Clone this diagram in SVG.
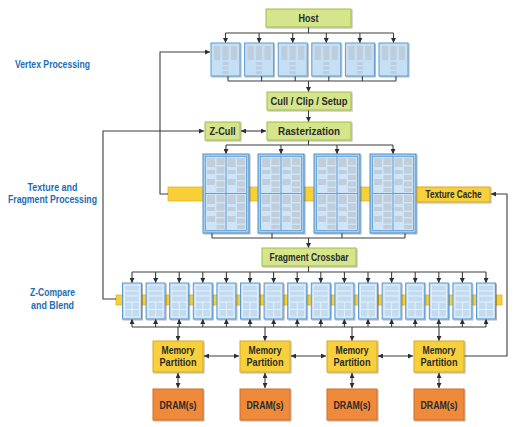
<svg xmlns="http://www.w3.org/2000/svg" xmlns:xlink="http://www.w3.org/1999/xlink" width="515" height="427" viewBox="0 0 515 427">
<style>
.t{font-family:"Liberation Sans",Arial,sans-serif;font-weight:bold;font-size:10px;fill:#2b2b2b;text-anchor:middle}
.lab{font-family:"Liberation Sans",Arial,sans-serif;font-weight:bold;font-size:10px;fill:#1c6cb4;text-anchor:middle}
.ln{fill:none;stroke:#3c3c3c;stroke-width:1.1}
.ar{fill:none;stroke:#3c3c3c;stroke-width:1.1;marker-end:url(#ah)}
.da{fill:none;stroke:#3c3c3c;stroke-width:1.1;marker-end:url(#ah);marker-start:url(#ah)}
.g{fill:#d4e58b;stroke:#a4bb4c;stroke-width:1;filter:url(#sh)}
.y{fill:#f8d03a;stroke:#d8a823;stroke-width:1;filter:url(#sh)}
.o{fill:#ef8a3b;stroke:#d06d24;stroke-width:1;filter:url(#sh)}
.bar{fill:#f8cf36;stroke:#e2b42a;stroke-width:0.8}
.vb{fill:#c5dff4;stroke:#5b9bd0;stroke-width:1;filter:url(#sh)}
.fb{fill:#a8cdee;stroke:#4d91cb;stroke-width:1;filter:url(#sh)}
.fi{fill:#cfe5f7;stroke:#5e9fd5;stroke-width:0.8}
.rb{fill:#c3dbf0;stroke:#5b9bd0;stroke-width:1;filter:url(#sh)}
.gr{fill:#b9c5d0;opacity:0.7}
.wl{fill:none;stroke:#eaf3fb;stroke-width:0.9}
</style>
<defs>
<filter id="sh" x="-20%" y="-20%" width="140%" height="140%">
<feDropShadow dx="1" dy="1" stdDeviation="0.7" flood-color="#000" flood-opacity="0.3"/>
</filter>
<marker id="ah" viewBox="0 0 6 6" markerWidth="5" markerHeight="5" refX="6" refY="3" orient="auto-start-reverse" markerUnits="userSpaceOnUse">
<path d="M0,0L6,3L0,6z" fill="#2e2e2e"/>
</marker>
<g id="vin">
<rect class="gr" x="3" y="3" width="6" height="14"/>
<rect class="gr" x="11.5" y="3" width="6" height="14"/>
<rect class="gr" x="20" y="3" width="6" height="14"/>
<rect class="gr" x="11.5" y="19" width="6" height="3"/>
<rect class="gr" x="11.5" y="23.5" width="6" height="3"/>
<rect class="gr" x="11.5" y="28" width="6" height="3"/>
</g>
<g id="fq">
<rect class="gr" x="1" y="1" width="8" height="9"/>
<rect class="gr" x="1" y="13" width="8" height="4"/>
<rect class="gr" x="1" y="22" width="8" height="6"/>
<rect class="gr" x="10.5" y="1" width="8" height="7"/>
<rect class="gr" x="10.5" y="9.5" width="8" height="7"/>
<rect class="gr" x="10.5" y="18" width="8" height="5"/>
<rect class="gr" x="10.5" y="24.5" width="8" height="5"/>
<rect class="gr" x="10.5" y="31" width="8" height="4"/>
</g>
<g id="fin">
<rect class="fi" x="2.5" y="2.5" width="41" height="74"/>
<path d="M23,2.5V76.5M2.5,39.5H43.5" fill="none" stroke="#5e9fd5" stroke-width="1"/>
<use xlink:href="#fq" x="3" y="3"/>
<use xlink:href="#fq" x="23.5" y="3"/>
<use xlink:href="#fq" x="3" y="40"/>
<use xlink:href="#fq" x="23.5" y="40"/>
</g>
<g id="rin">
<rect class="wl" x="2" y="2" width="15" height="32"/>
<path class="wl" d="M2,8H17M2,13H17M2,19H17M2,26.5H17M9.5,19V34"/>
</g>
</defs>

<g id="labels">
<text class="lab" x="52.5" y="67.5" textLength="75" lengthAdjust="spacingAndGlyphs">Vertex Processing</text>
<text class="lab" x="52.5" y="190.5" textLength="50" lengthAdjust="spacingAndGlyphs">Texture and</text>
<text class="lab" x="52.5" y="202.5" textLength="89" lengthAdjust="spacingAndGlyphs">Fragment Processing</text>
<text class="lab" x="52.5" y="295.5" textLength="45" lengthAdjust="spacingAndGlyphs">Z-Compare</text>
<text class="lab" x="52.5" y="308.5" textLength="43" lengthAdjust="spacingAndGlyphs">and Blend</text>
</g>

<g id="bars">
<rect id="texbar" class="bar" x="168" y="187" width="250" height="14"/>
<rect id="ropbar" class="bar" x="116" y="295" width="386" height="10"/>
</g>

<g id="connectors">
<path class="ln" d="M308.5,27V33M225.5,33H393.5"/>
<path class="ar" d="M225.5,33V43"/>
<path class="ar" d="M259.1,33V43"/>
<path class="ar" d="M292.7,33V43"/>
<path class="ar" d="M326.3,33V43"/>
<path class="ar" d="M359.9,33V43"/>
<path class="ar" d="M393.5,33V43"/>
<path class="ln" d="M228,76V81M261.6,76V81M295.2,76V81M328.8,76V81M362.4,76V81M396,76V81M228,81H396"/>
<path class="ar" d="M308.5,81V92"/>
<path class="ar" d="M308.5,110V122"/>
<path class="da" d="M241,131H266"/>
<path class="ln" d="M308.5,140V145M226,145H393"/>
<path class="ar" d="M226,145V154"/>
<path class="ar" d="M281,145V154"/>
<path class="ar" d="M337,145V154"/>
<path class="ar" d="M393,145V154"/>
<path class="ln" d="M212,233V238M272,233V238M342,233V238M405,233V238M212,238H405"/>
<path class="ar" d="M308.5,238V248"/>
<path class="ln" d="M308.5,266V272M132,272H486"/>
<path class="ar" d="M132,272V283"/>
<path class="ar" d="M155.6,272V283"/>
<path class="ar" d="M179.2,272V283"/>
<path class="ar" d="M202.8,272V283"/>
<path class="ar" d="M226.4,272V283"/>
<path class="ar" d="M250,272V283"/>
<path class="ar" d="M273.6,272V283"/>
<path class="ar" d="M297.2,272V283"/>
<path class="ar" d="M320.8,272V283"/>
<path class="ar" d="M344.4,272V283"/>
<path class="ar" d="M368,272V283"/>
<path class="ar" d="M391.6,272V283"/>
<path class="ar" d="M415.2,272V283"/>
<path class="ar" d="M438.8,272V283"/>
<path class="ar" d="M462.4,272V283"/>
<path class="ar" d="M486,272V283"/>
<path class="ln" d="M132,327H486"/>
<path class="ar" d="M132,327V319"/>
<path class="ar" d="M155.6,327V319"/>
<path class="ar" d="M179.2,327V319"/>
<path class="ar" d="M202.8,327V319"/>
<path class="ar" d="M226.4,327V319"/>
<path class="ar" d="M250,327V319"/>
<path class="ar" d="M273.6,327V319"/>
<path class="ar" d="M297.2,327V319"/>
<path class="ar" d="M320.8,327V319"/>
<path class="ar" d="M344.4,327V319"/>
<path class="ar" d="M368,327V319"/>
<path class="ar" d="M391.6,327V319"/>
<path class="ar" d="M415.2,327V319"/>
<path class="ar" d="M438.8,327V319"/>
<path class="ar" d="M462.4,327V319"/>
<path class="ar" d="M486,327V319"/>
<path class="ar" d="M178,327V341"/>
<path class="ar" d="M265,327V341"/>
<path class="ar" d="M352,327V341"/>
<path class="ar" d="M439,327V341"/>
<path class="da" d="M204,356H239"/>
<path class="da" d="M291,356H326"/>
<path class="da" d="M378,356H413"/>
<path class="da" d="M178,373V388"/>
<path class="da" d="M265,373V388"/>
<path class="da" d="M352,373V388"/>
<path class="da" d="M439,373V388"/>
<path class="ar" d="M464,356H507V194H491"/>
<path class="ar" d="M168,194H160V52H210"/>
<path class="ar" d="M116,299H103V131H204"/>
</g>

<g id="host"><rect class="g" x="266" y="9" width="85" height="18"/><text class="t" x="308.5" y="21.5" textLength="20" lengthAdjust="spacingAndGlyphs">Host</text></g>

<g id="vertex1"><rect class="vb" x="211" y="43" width="29" height="33"/><use xlink:href="#vin" x="211" y="43"/></g>
<g id="vertex2"><rect class="vb" x="244.6" y="43" width="29" height="33"/><use xlink:href="#vin" x="244.6" y="43"/></g>
<g id="vertex3"><rect class="vb" x="278.2" y="43" width="29" height="33"/><use xlink:href="#vin" x="278.2" y="43"/></g>
<g id="vertex4"><rect class="vb" x="311.8" y="43" width="29" height="33"/><use xlink:href="#vin" x="311.8" y="43"/></g>
<g id="vertex5"><rect class="vb" x="345.4" y="43" width="29" height="33"/><use xlink:href="#vin" x="345.4" y="43"/></g>
<g id="vertex6"><rect class="vb" x="379" y="43" width="29" height="33"/><use xlink:href="#vin" x="379" y="43"/></g>

<g id="cull"><rect class="g" x="267" y="92" width="84" height="18"/><text class="t" x="309" y="104.5" textLength="77" lengthAdjust="spacingAndGlyphs">Cull / Clip / Setup</text></g>
<g id="raster"><rect class="g" x="267" y="122" width="84" height="18"/><text class="t" x="309" y="134.5" textLength="62" lengthAdjust="spacingAndGlyphs">Rasterization</text></g>
<g id="zcull"><rect class="g" x="205" y="122" width="35" height="18"/><text class="t" x="222.5" y="134.5" textLength="26" lengthAdjust="spacingAndGlyphs">Z-Cull</text></g>

<g id="frag1"><rect class="fb" x="203" y="154" width="46" height="79"/><use xlink:href="#fin" x="203" y="154"/></g>
<g id="frag2"><rect class="fb" x="258" y="154" width="46" height="79"/><use xlink:href="#fin" x="258" y="154"/></g>
<g id="frag3"><rect class="fb" x="314" y="154" width="46" height="79"/><use xlink:href="#fin" x="314" y="154"/></g>
<g id="frag4"><rect class="fb" x="370" y="154" width="46" height="79"/><use xlink:href="#fin" x="370" y="154"/></g>

<g id="texcache"><rect class="y" x="417" y="187" width="73" height="15" stroke="#b8901a"/><text class="t" x="453.5" y="198" textLength="56" lengthAdjust="spacingAndGlyphs">Texture Cache</text></g>

<g id="crossbar"><rect class="g" x="262" y="248" width="94" height="18"/><text class="t" x="309" y="260.5" textLength="79" lengthAdjust="spacingAndGlyphs">Fragment Crossbar</text></g>

<g id="rops">
<g id="rop1"><rect class="rb" x="122.5" y="283" width="19" height="36"/><use xlink:href="#rin" x="122.5" y="283"/></g>
<g id="rop2"><rect class="rb" x="146.1" y="283" width="19" height="36"/><use xlink:href="#rin" x="146.1" y="283"/></g>
<g id="rop3"><rect class="rb" x="169.7" y="283" width="19" height="36"/><use xlink:href="#rin" x="169.7" y="283"/></g>
<g id="rop4"><rect class="rb" x="193.3" y="283" width="19" height="36"/><use xlink:href="#rin" x="193.3" y="283"/></g>
<g id="rop5"><rect class="rb" x="216.9" y="283" width="19" height="36"/><use xlink:href="#rin" x="216.9" y="283"/></g>
<g id="rop6"><rect class="rb" x="240.5" y="283" width="19" height="36"/><use xlink:href="#rin" x="240.5" y="283"/></g>
<g id="rop7"><rect class="rb" x="264.1" y="283" width="19" height="36"/><use xlink:href="#rin" x="264.1" y="283"/></g>
<g id="rop8"><rect class="rb" x="287.7" y="283" width="19" height="36"/><use xlink:href="#rin" x="287.7" y="283"/></g>
<g id="rop9"><rect class="rb" x="311.3" y="283" width="19" height="36"/><use xlink:href="#rin" x="311.3" y="283"/></g>
<g id="rop10"><rect class="rb" x="334.9" y="283" width="19" height="36"/><use xlink:href="#rin" x="334.9" y="283"/></g>
<g id="rop11"><rect class="rb" x="358.5" y="283" width="19" height="36"/><use xlink:href="#rin" x="358.5" y="283"/></g>
<g id="rop12"><rect class="rb" x="382.1" y="283" width="19" height="36"/><use xlink:href="#rin" x="382.1" y="283"/></g>
<g id="rop13"><rect class="rb" x="405.7" y="283" width="19" height="36"/><use xlink:href="#rin" x="405.7" y="283"/></g>
<g id="rop14"><rect class="rb" x="429.3" y="283" width="19" height="36"/><use xlink:href="#rin" x="429.3" y="283"/></g>
<g id="rop15"><rect class="rb" x="452.9" y="283" width="19" height="36"/><use xlink:href="#rin" x="452.9" y="283"/></g>
<g id="rop16"><rect class="rb" x="476.5" y="283" width="19" height="36"/><use xlink:href="#rin" x="476.5" y="283"/></g>
</g>

<g id="mp1"><rect class="y" x="153" y="341" width="50" height="31"/><text class="t" x="178" y="353.5" textLength="33" lengthAdjust="spacingAndGlyphs">Memory</text><text class="t" x="178" y="365.5" textLength="37" lengthAdjust="spacingAndGlyphs">Partition</text></g>
<g id="mp2"><rect class="y" x="240" y="341" width="50" height="31"/><text class="t" x="265" y="353.5" textLength="33" lengthAdjust="spacingAndGlyphs">Memory</text><text class="t" x="265" y="365.5" textLength="37" lengthAdjust="spacingAndGlyphs">Partition</text></g>
<g id="mp3"><rect class="y" x="327" y="341" width="50" height="31"/><text class="t" x="352" y="353.5" textLength="33" lengthAdjust="spacingAndGlyphs">Memory</text><text class="t" x="352" y="365.5" textLength="37" lengthAdjust="spacingAndGlyphs">Partition</text></g>
<g id="mp4"><rect class="y" x="414" y="341" width="50" height="31"/><text class="t" x="439" y="353.5" textLength="33" lengthAdjust="spacingAndGlyphs">Memory</text><text class="t" x="439" y="365.5" textLength="37" lengthAdjust="spacingAndGlyphs">Partition</text></g>

<g id="dram1"><rect class="o" x="153" y="389" width="50" height="31"/><text class="t" x="178" y="408.5" textLength="37" lengthAdjust="spacingAndGlyphs">DRAM(s)</text></g>
<g id="dram2"><rect class="o" x="240" y="389" width="50" height="31"/><text class="t" x="265" y="408.5" textLength="37" lengthAdjust="spacingAndGlyphs">DRAM(s)</text></g>
<g id="dram3"><rect class="o" x="327" y="389" width="50" height="31"/><text class="t" x="352" y="408.5" textLength="37" lengthAdjust="spacingAndGlyphs">DRAM(s)</text></g>
<g id="dram4"><rect class="o" x="414" y="389" width="50" height="31"/><text class="t" x="439" y="408.5" textLength="37" lengthAdjust="spacingAndGlyphs">DRAM(s)</text></g>
</svg>
